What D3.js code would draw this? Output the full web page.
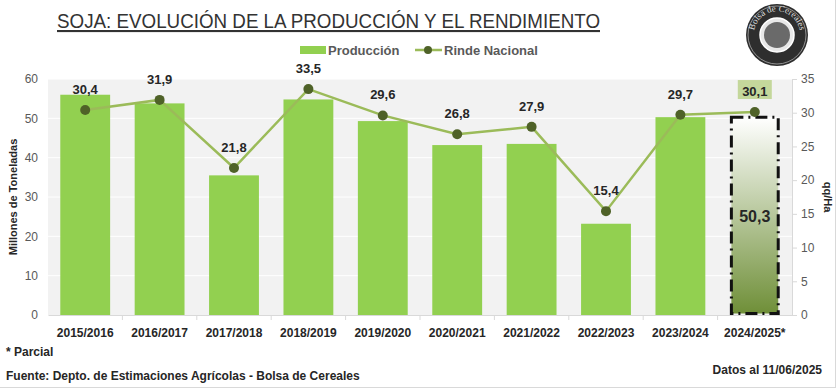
<!DOCTYPE html>
<html lang="es">
<head>
<meta charset="UTF-8">
<title>Soja: evolución de la producción y el rendimiento</title>
<style>
  body { margin: 0; background: #fff; }
  svg { display: block; font-family: "Liberation Sans", Arial, sans-serif; }
  .tick text { fill: #595959; font-size: 12px; }
  .lbl { font-weight: bold; font-size: 13px; fill: #262626; text-anchor: middle; }
</style>
</head>
<body>
<svg width="837" height="389"></svg>
<script src="https://cdn.jsdelivr.net/npm/d3@7"></script>
<script>
// data
const campanias = ["2015/2016", "2016/2017", "2017/2018", "2018/2019", "2019/2020",
                   "2020/2021", "2021/2022", "2022/2023", "2023/2024", "2024/2025*"];
const produccion = [56.0, 53.8, 35.5, 54.8, 49.3, 43.2, 43.5, 23.2, 50.3, 50.3]; // millones de t
const rinde = [30.4, 31.9, 21.8, 33.5, 29.6, 26.8, 27.9, 15.4, 29.7, 30.1];          // qq/Ha
const leftTicks = [0, 10, 20, 30, 40, 50, 60];
const rightTicks = [0, 5, 10, 15, 20, 25, 30, 35];

const fmt = v => d3.format(".1f")(v).replace(".", ",");

const svg = d3.select("svg");
const plot = { left: 48, right: 792, top: 79, bottom: 315 };

const x = d3.scaleBand().domain(campanias).range([plot.left, plot.right]).paddingInner(0.33).paddingOuter(0.165);
const xCenter = d => x(d) + x.bandwidth() / 2;
const yL = d3.scaleLinear().domain([0, 60]).range([plot.bottom, plot.top]);
const yR = d3.scaleLinear().domain([0, 35]).range([plot.bottom, plot.top]);

// gradient for partial campaign
const defs = svg.append("defs");
const grad = defs.append("linearGradient").attr("id", "parcial").attr("x1", 0).attr("y1", 0).attr("x2", 0).attr("y2", 1);
grad.append("stop").attr("offset", "0%").attr("stop-color", "#ffffff");
grad.append("stop").attr("offset", "100%").attr("stop-color", "#6f8f38");

// title
svg.append("text")
  .attr("x", 57).attr("y", 28)
  .attr("textLength", 543).attr("lengthAdjust", "spacingAndGlyphs")
  .style("font-size", "21px").style("fill", "#333")
  .style("text-decoration", "underline")
  .text("SOJA: EVOLUCIÓN DE LA PRODUCCIÓN Y EL RENDIMIENTO");

// logo
const logo = svg.append("g").attr("transform", "translate(777,35)");
logo.append("circle").attr("r", 31).attr("fill", "#2e2e2e");
logo.append("circle").attr("r", 29).attr("fill", "none").attr("stroke", "#aaa").attr("stroke-width", 0.8);
logo.append("circle").attr("r", 17).attr("fill", "#e8e8e8").attr("stroke", "#fff").attr("stroke-width", 1.5);
logo.append("circle").attr("r", 13).attr("fill", "#6a6a6a");
defs.append("path").attr("id", "logoArc").attr("d", "M-22,6 A23,23 0 1,1 22,6");
logo.append("text").style("font-family", "Liberation Serif, serif").style("font-size", "9px").style("fill", "#ddd")
  .append("textPath").attr("href", "#logoArc").attr("startOffset", "50%").attr("text-anchor", "middle")
  .text("Bolsa de Cereales");

// legend
svg.append("rect").attr("x", 300).attr("y", 46).attr("width", 26).attr("height", 8).attr("fill", "#92d050");
svg.append("text").attr("x", 328).attr("y", 55).style("font-size", "13px").style("font-weight", "bold")
  .style("fill", "#595959").text("Producción");
svg.append("line").attr("x1", 415).attr("x2", 442).attr("y1", 50).attr("y2", 50)
  .attr("stroke", "#9bbb59").attr("stroke-width", 2.5);
svg.append("circle").attr("cx", 428).attr("cy", 50).attr("r", 4).attr("fill", "#4f6228");
svg.append("text").attr("x", 444).attr("y", 55).style("font-size", "13px").style("font-weight", "bold")
  .style("fill", "#595959").text("Rinde Nacional");

// plot background and gridlines
svg.append("rect").attr("x", plot.left).attr("y", plot.top)
  .attr("width", plot.right - plot.left).attr("height", plot.bottom - plot.top).attr("fill", "#f2f2f2");
svg.append("g").selectAll("line").data(leftTicks.slice(1)).join("line")
  .attr("x1", plot.left).attr("x2", plot.right)
  .attr("y1", d => yL(d)).attr("y2", d => yL(d))
  .attr("stroke", "#fff").attr("stroke-width", 1);

// axes
const axL = svg.append("g").attr("transform", `translate(${plot.left},0)`)
  .call(d3.axisLeft(yL).tickValues(leftTicks).tickSize(0).tickPadding(10));
axL.select(".domain").remove();

const axR = svg.append("g").attr("transform", `translate(${plot.right},0)`)
  .call(d3.axisRight(yR).tickValues(rightTicks).tickSize(5).tickPadding(4));
axR.select(".domain").attr("stroke", "#d9d9d9");
axR.selectAll(".tick line").attr("stroke", "#d9d9d9");

const axB = svg.append("g").attr("transform", `translate(0,${plot.bottom})`)
  .call(d3.axisBottom(x).tickSize(0).tickPadding(13));
axB.select(".domain").attr("stroke", "#d9d9d9");
axB.selectAll(".tick text").style("font-weight", "bold").style("fill", "#262626");
svg.append("g").selectAll("line").data(campanias.slice(1)).join("line")
  .attr("x1", d => x(d) - x.step() * x.paddingInner() / 2).attr("x2", d => x(d) - x.step() * x.paddingInner() / 2)
  .attr("y1", plot.bottom).attr("y2", plot.bottom + 5).attr("stroke", "#d9d9d9");

// bars
const bars = campanias.map((c, i) => ({ c, v: produccion[i], parcial: c.endsWith("*") }));
svg.append("g").selectAll("rect").data(bars.filter(d => !d.parcial)).join("rect")
  .attr("x", d => x(d.c)).attr("width", x.bandwidth())
  .attr("y", d => yL(d.v)).attr("height", d => yL(0) - yL(d.v))
  .attr("fill", "#92d050");

const last = bars.filter(d => d.parcial);
svg.append("g").selectAll("rect").data(last).join("rect")
  .attr("x", d => x(d.c) + 1.5).attr("width", x.bandwidth() - 3)
  .attr("y", d => yL(d.v)).attr("height", d => yL(0) - yL(d.v) - 1.5)
  .attr("fill", "url(#parcial)")
  .attr("stroke", "#111").attr("stroke-width", 3).attr("stroke-dasharray", "12,5,2,5");
svg.append("g").selectAll("text").data(last).join("text")
  .attr("class", "lbl").style("font-size", "16px")
  .attr("x", d => xCenter(d.c)).attr("y", d => yL(d.v / 2) + 6)
  .text(d => fmt(d.v));

// rinde line
const pts = campanias.map((c, i) => ({ c, v: rinde[i] }));
svg.append("path").datum(pts)
  .attr("d", d3.line().x(d => xCenter(d.c)).y(d => yR(d.v)))
  .attr("fill", "none").attr("stroke", "#9bbb59").attr("stroke-width", 2.5);
svg.append("g").selectAll("circle").data(pts).join("circle")
  .attr("cx", d => xCenter(d.c)).attr("cy", d => yR(d.v)).attr("r", 5)
  .attr("fill", "#4f6228");

// highlight box behind last label
const lastPt = pts[pts.length - 1];
svg.append("rect")
  .attr("x", xCenter(lastPt.c) - 17).attr("y", yR(lastPt.v) - 32)
  .attr("width", 34).attr("height", 19).attr("fill", "#c4d79b");
svg.append("g").selectAll("text").data(pts).join("text")
  .attr("class", "lbl")
  .attr("x", d => xCenter(d.c)).attr("y", d => yR(d.v) - 16)
  .text(d => fmt(d.v));

// axis titles
svg.append("text").attr("transform", `translate(17,${(plot.top + plot.bottom) / 2}) rotate(-90)`)
  .attr("text-anchor", "middle").style("font-size", "11px").style("font-weight", "bold").style("fill", "#262626")
  .text("Millones de Toneladas");
svg.append("text").attr("transform", `translate(824,${(plot.top + plot.bottom) / 2}) rotate(90)`)
  .attr("text-anchor", "middle").style("font-size", "11px").style("font-weight", "bold").style("fill", "#262626")
  .text("qq/Ha");

// footnotes
const foot = svg.append("g").style("font-size", "12px").style("font-weight", "bold").style("fill", "#262626");
foot.append("text").attr("x", 6).attr("y", 356).text("* Parcial");
foot.append("text").attr("x", 6).attr("y", 380).text("Fuente: Depto. de Estimaciones Agrícolas - Bolsa de Cereales");
foot.append("text").attr("x", 822).attr("y", 374).attr("text-anchor", "end").text("Datos al 11/06/2025");

// frame edges
svg.append("line").attr("x1", 835.5).attr("x2", 835.5).attr("y1", 0).attr("y2", 388).attr("stroke", "#d9d9d9");
svg.append("line").attr("x1", 0).attr("x2", 836).attr("y1", 387.5).attr("y2", 387.5).attr("stroke", "#d9d9d9");
</script>
</body>
</html>
